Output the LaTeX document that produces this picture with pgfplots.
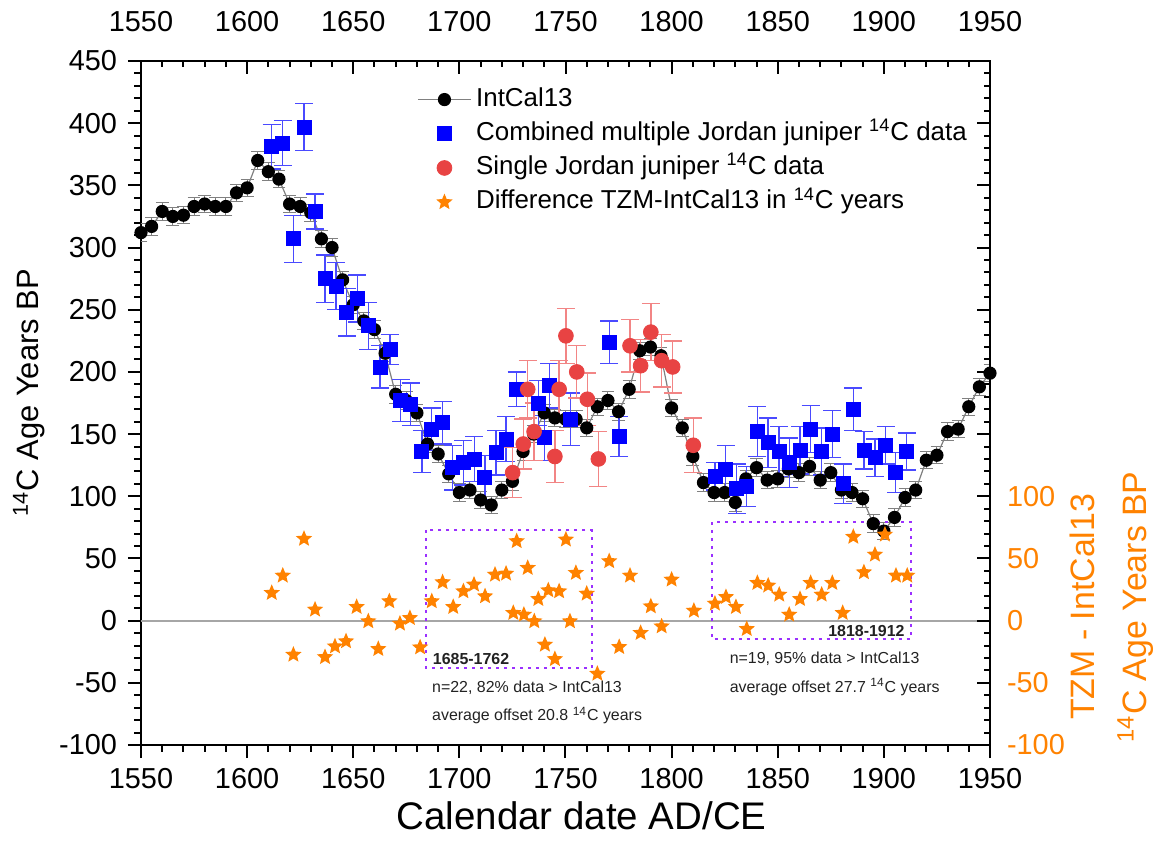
\documentclass[border=0pt]{standalone}
\usepackage{fontspec}
\setmainfont{Liberation Sans}
\usepackage{pgfplots}
\usepackage{pgfplotstable}
\pgfplotsset{compat=1.18}
\usetikzlibrary{plotmarks}

\definecolor{cblue}{HTML}{0000FF}
\definecolor{cblueerr}{HTML}{4A4AFF}
\definecolor{cred}{HTML}{E84343}
\definecolor{crederr}{HTML}{F28585}
\definecolor{corange}{HTML}{FF8200}
\definecolor{cpurple}{HTML}{9B30FF}
\definecolor{ctext}{HTML}{222222}

\pgfdeclareplotmark{fstar}{%
  \pgfpathmoveto{\pgfpointpolar{90}{\pgfplotmarksize}}%
  \pgfpathlineto{\pgfpointpolar{126}{0.45\pgfplotmarksize}}%
  \pgfpathlineto{\pgfpointpolar{162}{\pgfplotmarksize}}%
  \pgfpathlineto{\pgfpointpolar{198}{0.45\pgfplotmarksize}}%
  \pgfpathlineto{\pgfpointpolar{234}{\pgfplotmarksize}}%
  \pgfpathlineto{\pgfpointpolar{270}{0.45\pgfplotmarksize}}%
  \pgfpathlineto{\pgfpointpolar{306}{\pgfplotmarksize}}%
  \pgfpathlineto{\pgfpointpolar{342}{0.45\pgfplotmarksize}}%
  \pgfpathlineto{\pgfpointpolar{18}{\pgfplotmarksize}}%
  \pgfpathlineto{\pgfpointpolar{54}{0.45\pgfplotmarksize}}%
  \pgfpathclose
  \pgfusepathqfill
}

\pgfplotstableread{
x y e
1550 312 7
1555 317 7
1560 329 7
1565 325 7
1570 326 7
1575 333 7
1580 335 7
1585 333 7
1590 333 7
1595 344 7
1600 348 7
1605 370 7
1610 361 7
1615 355 7
1620 335 7
1625 333 7
1630 328 7
1635 307 7
1640 300 7
1645 274 7
1650 254 7
1655 241 7
1660 234 7
1665 215 7
1670 182 7
1675 177 7
1680 167 7
1685 142 7
1690 134 7
1695 118 7
1700 103 7
1705 105 7
1710 97 7
1715 93 7
1720 105 7
1725 112 7
1730 136 7
1735 150 7
1740 167 7
1745 163 7
1750 162 7
1755 162 7
1760 155 7
1765 172 7
1770 177 7
1775 168 7
1780 186 7
1785 217 7
1790 220 7
1795 213 7
1800 171 7
1805 155 7
1810 132 7
1815 111 7
1820 103 7
1825 103 7
1830 95 7
1835 114 7
1840 123 7
1845 113 7
1850 114 7
1855 122 7
1860 119 7
1865 124 7
1870 113 7
1875 119 7
1880 105 7
1885 103 7
1890 98 7
1895 78 7
1900 72 7
1905 83 7
1910 99 7
1915 105 7
1920 129 7
1925 133 7
1930 152 7
1935 154 7
1940 172 7
1945 188 7
1950 199 7
}\intcal

\pgfplotstableread{
x y e
1611.6 381 18
1616.8 384 18
1621.8 307 19
1626.8 397 19
1632.0 329 14
1636.7 275 19
1641.9 269 19
1646.9 248 19
1651.9 259 19
1657.1 237 19
1662.6 204 17
1667.3 218 12
1672.4 177 17
1677.0 174 17
1682.3 136 17
1687.0 154 17
1692.1 159 17
1696.9 123 18
1701.9 127 18
1707.0 130 18
1712.0 115 18
1717.3 135 18
1722.0 146 18
1727.0 186 14
1737.2 175 18
1740.0 147 18
1742.4 189 18
1752.4 162 21
1770.6 224 17
1775.3 148 16
1820.4 116 11
1825.5 122 19
1830.7 106 20
1835.4 108 16
1840.4 152 20
1845.5 143 20
1850.6 136 20
1855.5 127 20
1860.5 137 19
1865.5 154 19
1870.7 136 19
1875.7 150 19
1880.9 110 16
1885.6 170 17
1890.6 137 15
1895.8 131 15
1900.8 141 15
1905.6 119 16
1910.8 136 15
}\blueData

\pgfplotstableread{
x y e
1725.1 119 20
1730.1 142 20
1732.2 186 23
1735.2 152 23
1745.0 132 21
1747.0 186 23
1750.2 229 22
1755.3 200 21
1760.3 178 21
1765.5 130 22
1780.4 221 21
1785.4 205 21
1790.2 232 23
1795.3 209 21
1800.5 204 21
1810.2 141 22
}\redData

\pgfplotstableread{
x y
1611.6 22.3
1616.8 36.2
1621.8 -27.4
1626.8 65.8
1632.0 8.9
1636.7 -29.3
1641.4 -20.7
1646.6 -16.6
1651.6 11.0
1657.1 -0.5
1661.8 -22.8
1667.0 15.6
1672.0 -2.4
1676.7 2.1
1681.5 -21.5
1687.0 15.6
1692.1 30.9
1697.1 11.0
1701.9 23.6
1706.9 29.0
1712.1 19.6
1716.8 37.0
1722.0 37.8
1725.4 6.2
1727.0 63.9
1730.4 4.8
1732.2 42.4
1735.3 -0.5
1737.2 17.4
1740.3 -19.3
1741.9 24.4
1745.0 -30.9
1747.0 23.6
1750.2 65.2
1752.1 -0.5
1754.9 38.4
1760.0 21.7
1765.0 -42.7
1770.6 47.8
1775.3 -21.2
1780.4 36.2
1785.4 -9.9
1790.2 11.5
1795.3 -4.6
1800.0 33.0
1810.5 8.0
1820.4 13.7
1825.6 19.0
1830.3 11.0
1835.4 -6.7
1840.4 30.3
1845.5 28.2
1850.7 20.9
1855.4 4.8
1860.5 17.4
1865.5 30.3
1870.7 20.9
1875.7 30.3
1880.6 6.2
1885.6 67.4
1890.6 38.9
1895.8 53.1
1900.5 69.2
1905.7 36.2
1911.0 36.2
}\starData

\begin{document}
\begin{tikzpicture}
\useasboundingbox (-70.5bp,-51.5bp) rectangle (509.5bp,372.5bp);
\pgfplotsset{
  common/.style={
    at={(0,0)}, anchor=south west,
    scale only axis, width=424.5bp, height=342bp,
    xmin=1550, xmax=1950, ymin=-100, ymax=450,
    major tick length=6.5bp, minor tick length=3.25bp,
    axis line style={line width=1bp},
    every tick/.style={black, line width=1bp},
    ticklabel style={font=\fontsize{14.5}{17}\selectfont},
    /pgf/number format/assume math mode=true,
    /pgf/number format/1000 sep={},
    scaled ticks=false,
  }
}
\begin{axis}[
  common,
  xtick={1550,1600,...,1950}, ytick={-100,-50,...,450},
  minor x tick num=4, minor y tick num=4,
  tick align=outside, tick pos=left,
  xticklabel style={yshift=-1.5bp},
  yticklabel style={xshift=-2bp},
  xlabel={Calendar date AD/CE},
  xlabel style={font=\fontsize{19.3}{22}\selectfont, inner sep=0pt, at={(axis description cs:0.519,-0.104)}, anchor=center},
  ylabel={\textsuperscript{14}C Age Years BP},
  ylabel style={font=\fontsize{15.5}{18}\selectfont, at={(axis description cs:-0.132,0.515)}, anchor=center},
  legend style={at={(0.318,0.975)}, anchor=north west, draw=none, fill=none,
    font=\fontsize{13}{15}\selectfont, row sep=0pt,
    nodes={text height=9.5bp, text depth=3bp, inner sep=2.3bp}},
  legend cell align=left,
  legend image code/.code={\draw[mark repeat=2,mark phase=2,#1] plot coordinates {(0bp,0bp) (13.25bp,0bp) (26.5bp,0bp)};},
]
\addplot[forget plot, color=black!35, line width=1bp] coordinates {(1550,0) (1950,0)};

\addplot[color=gray, line width=0.6bp, mark=*, mark size=3bp,
  mark options={black, fill=black, solid},
  error bars/.cd, y dir=both, y explicit,
  error bar style={gray, line width=0.5bp},
  error mark options={rotate=90, gray, mark size=3.2bp, line width=0.5bp}]
  table[x=x, y=y, y error=e] {\intcal};
\addlegendentry{IntCal13}

\addplot[only marks, mark=square*, mark size=3.5bp, color=cblue,
  mark options={fill=cblue, draw=cblue},
  error bars/.cd, y dir=both, y explicit,
  error bar style={cblueerr, line width=0.7bp},
  error mark options={rotate=90, cblueerr, mark size=4.5bp, line width=0.7bp}]
  table[x=x, y=y, y error=e] {\blueData};
\addlegendentry{Combined multiple Jordan juniper \textsuperscript{14}C data}

\addplot[only marks, mark=*, mark size=3.7bp, color=cred,
  mark options={fill=cred, draw=cred},
  error bars/.cd, y dir=both, y explicit,
  error bar style={crederr, line width=0.7bp},
  error mark options={rotate=90, crederr, mark size=4.5bp, line width=0.7bp}]
  table[x=x, y=y, y error=e] {\redData};
\addlegendentry{Single Jordan juniper \textsuperscript{14}C data}

\addplot[only marks, mark=fstar, mark size=4.3bp, color=corange,
  mark options={fill=corange}]
  table[x=x, y=y] {\starData};
\addlegendentry{Difference TZM-IntCal13 in \textsuperscript{14}C years}

\draw[cpurple, line width=1bp, dash pattern=on 1.5bp off 2.5bp] (axis cs:1684.5,73) rectangle (axis cs:1762.3,-38.2);
\draw[cpurple, line width=1bp, dash pattern=on 1.5bp off 2.5bp] (axis cs:1818.9,79.4) rectangle (axis cs:1912.6,-14.7);

\node[font=\fontsize{8}{10}\selectfont\bfseries, text=ctext, anchor=center] at (axis cs:1705.5,-30.6) {1685-1762};
\node[font=\fontsize{8}{10}\selectfont, text=ctext, anchor=west, inner sep=0pt] at (axis cs:1687,-53.7) {n=22, 82\% data > IntCal13};
\node[font=\fontsize{8}{10}\selectfont, text=ctext, anchor=west, inner sep=0pt] at (axis cs:1687,-76.3) {average offset 20.8 \textsuperscript{14}C years};
\node[font=\fontsize{8}{10}\selectfont\bfseries, text=ctext, anchor=center] at (axis cs:1891.8,-8.6) {1818-1912};
\node[font=\fontsize{8}{10}\selectfont, text=ctext, anchor=west, inner sep=0pt] at (axis cs:1827.2,-30.8) {n=19, 95\% data > IntCal13};
\node[font=\fontsize{8}{10}\selectfont, text=ctext, anchor=west, inner sep=0pt] at (axis cs:1827.2,-53.4) {average offset 27.7 \textsuperscript{14}C years};
\end{axis}

% top axis
\begin{axis}[
  common,
  axis y line=none, axis x line*=top,
  xtick={1550,1600,...,1950}, minor x tick num=4,
  tick align=inside,
  xticklabel style={yshift=11bp},
]
\end{axis}

% right axis
\begin{axis}[
  common,
  clip=false,
  axis x line=none, axis y line*=right,
  ytick={-100,-50,...,450}, minor y tick num=4,
  yticklabels={-100,-50,0,50,100,{},{},{},{},{},{},{}},
  tick align=inside,
  yticklabel style={text=corange, xshift=5bp},
]
\node[rotate=90, align=center, text=corange, font=\fontsize{17}{26}\selectfont, anchor=center]
  at (rel axis cs:1.143,0.202) {TZM - IntCal13\\\textsuperscript{14}C Age Years BP};
\end{axis}
\end{tikzpicture}
\end{document}
